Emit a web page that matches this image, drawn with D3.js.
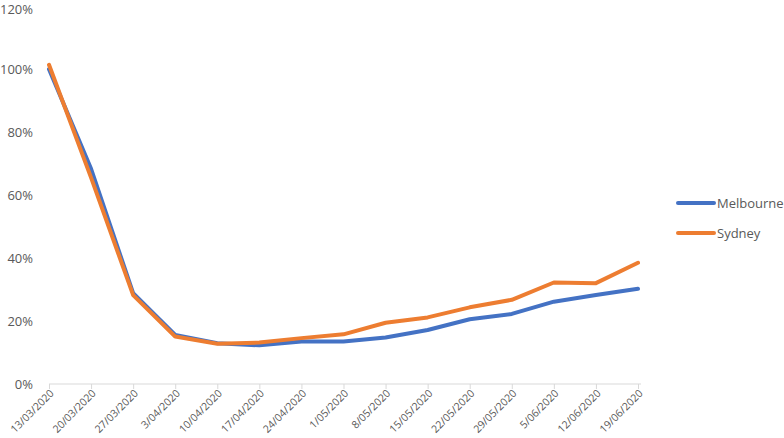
<!DOCTYPE html>
<html><head><meta charset="utf-8">
<script src="https://cdn.jsdelivr.net/npm/d3@7"></script>
<style>body{margin:0;background:#fff;}svg{display:block;font-family:"Open Sans","Noto Sans",sans-serif;}</style>
</head><body>
<svg id="c" width="784" height="438"></svg>
<script>
const dates = ["13/03/2020","20/03/2020","27/03/2020","3/04/2020","10/04/2020","17/04/2020","24/04/2020","1/05/2020","8/05/2020","15/05/2020","22/05/2020","29/05/2020","5/06/2020","12/06/2020","19/06/2020"];
const melbourne = [100.2, 68.5, 28.9, 15.6, 13.0, 12.3, 13.5, 13.5, 14.8, 17.2, 20.6, 22.3, 26.2, 28.3, 30.3];
const sydney = [101.6, 65.7, 28.3, 15.1, 12.8, 13.2, 14.6, 15.8, 19.5, 21.2, 24.4, 26.8, 32.3, 32.1, 38.6];
const yTicks = [0, 20, 40, 60, 80, 100, 120];
const seriesNames = ["Melbourne", "Sydney"];
const colors = ["#4472C4", "#ED7D31"];

const svg = d3.select("#c");
const x = d3.scalePoint().domain(dates).range([49, 638]);
const y = d3.scaleLinear().domain([0, 120]).range([384, 7]);

// y labels
svg.append("g").selectAll("text").data(yTicks).join("text")
  .attr("x", 33).attr("y", d => Math.max(y(d), 9)).attr("dy", "0.35em")
  .attr("text-anchor", "end").attr("font-size", 13).attr("fill", "#595959")
  .text(d => d + "%");

// x axis
const xAxis = d3.axisBottom(x).tickSize(5).tickSizeOuter(0);
const gx = svg.append("g").attr("transform", "translate(0,384)").call(xAxis);
gx.select(".domain").attr("stroke", "#d9d9d9").attr("d", "M49,0H641");
gx.selectAll(".tick line").attr("stroke", "#d9d9d9");
gx.selectAll(".tick text")
  .attr("font-size", 10.5).attr("fill", "#595959")
  .attr("font-family", '"Open Sans","Noto Sans",sans-serif')
  .attr("text-anchor", "end").attr("dy", null).attr("y", 0)
  .attr("transform", "translate(5,10) rotate(-45)");

const line = d3.line().x((d, i) => x(dates[i])).y(d => y(d));
[melbourne, sydney].forEach((s, k) => {
  svg.append("path").attr("d", line(s)).attr("fill", "none")
    .attr("stroke", colors[k]).attr("stroke-width", 4)
    .attr("stroke-linejoin", "round").attr("stroke-linecap", "round");
});

// legend
const lg = svg.append("g");
seriesNames.forEach((n, k) => {
  const yy = 203 + k * 30;
  lg.append("line").attr("x1", 678).attr("x2", 714).attr("y1", yy).attr("y2", yy)
    .attr("stroke", colors[k]).attr("stroke-width", 4).attr("stroke-linecap", "round");
  lg.append("text").attr("x", 717).attr("y", yy).attr("dy", "0.35em")
    .attr("font-size", 13).attr("fill", "#595959").text(n);
});
</script>
</body></html>
